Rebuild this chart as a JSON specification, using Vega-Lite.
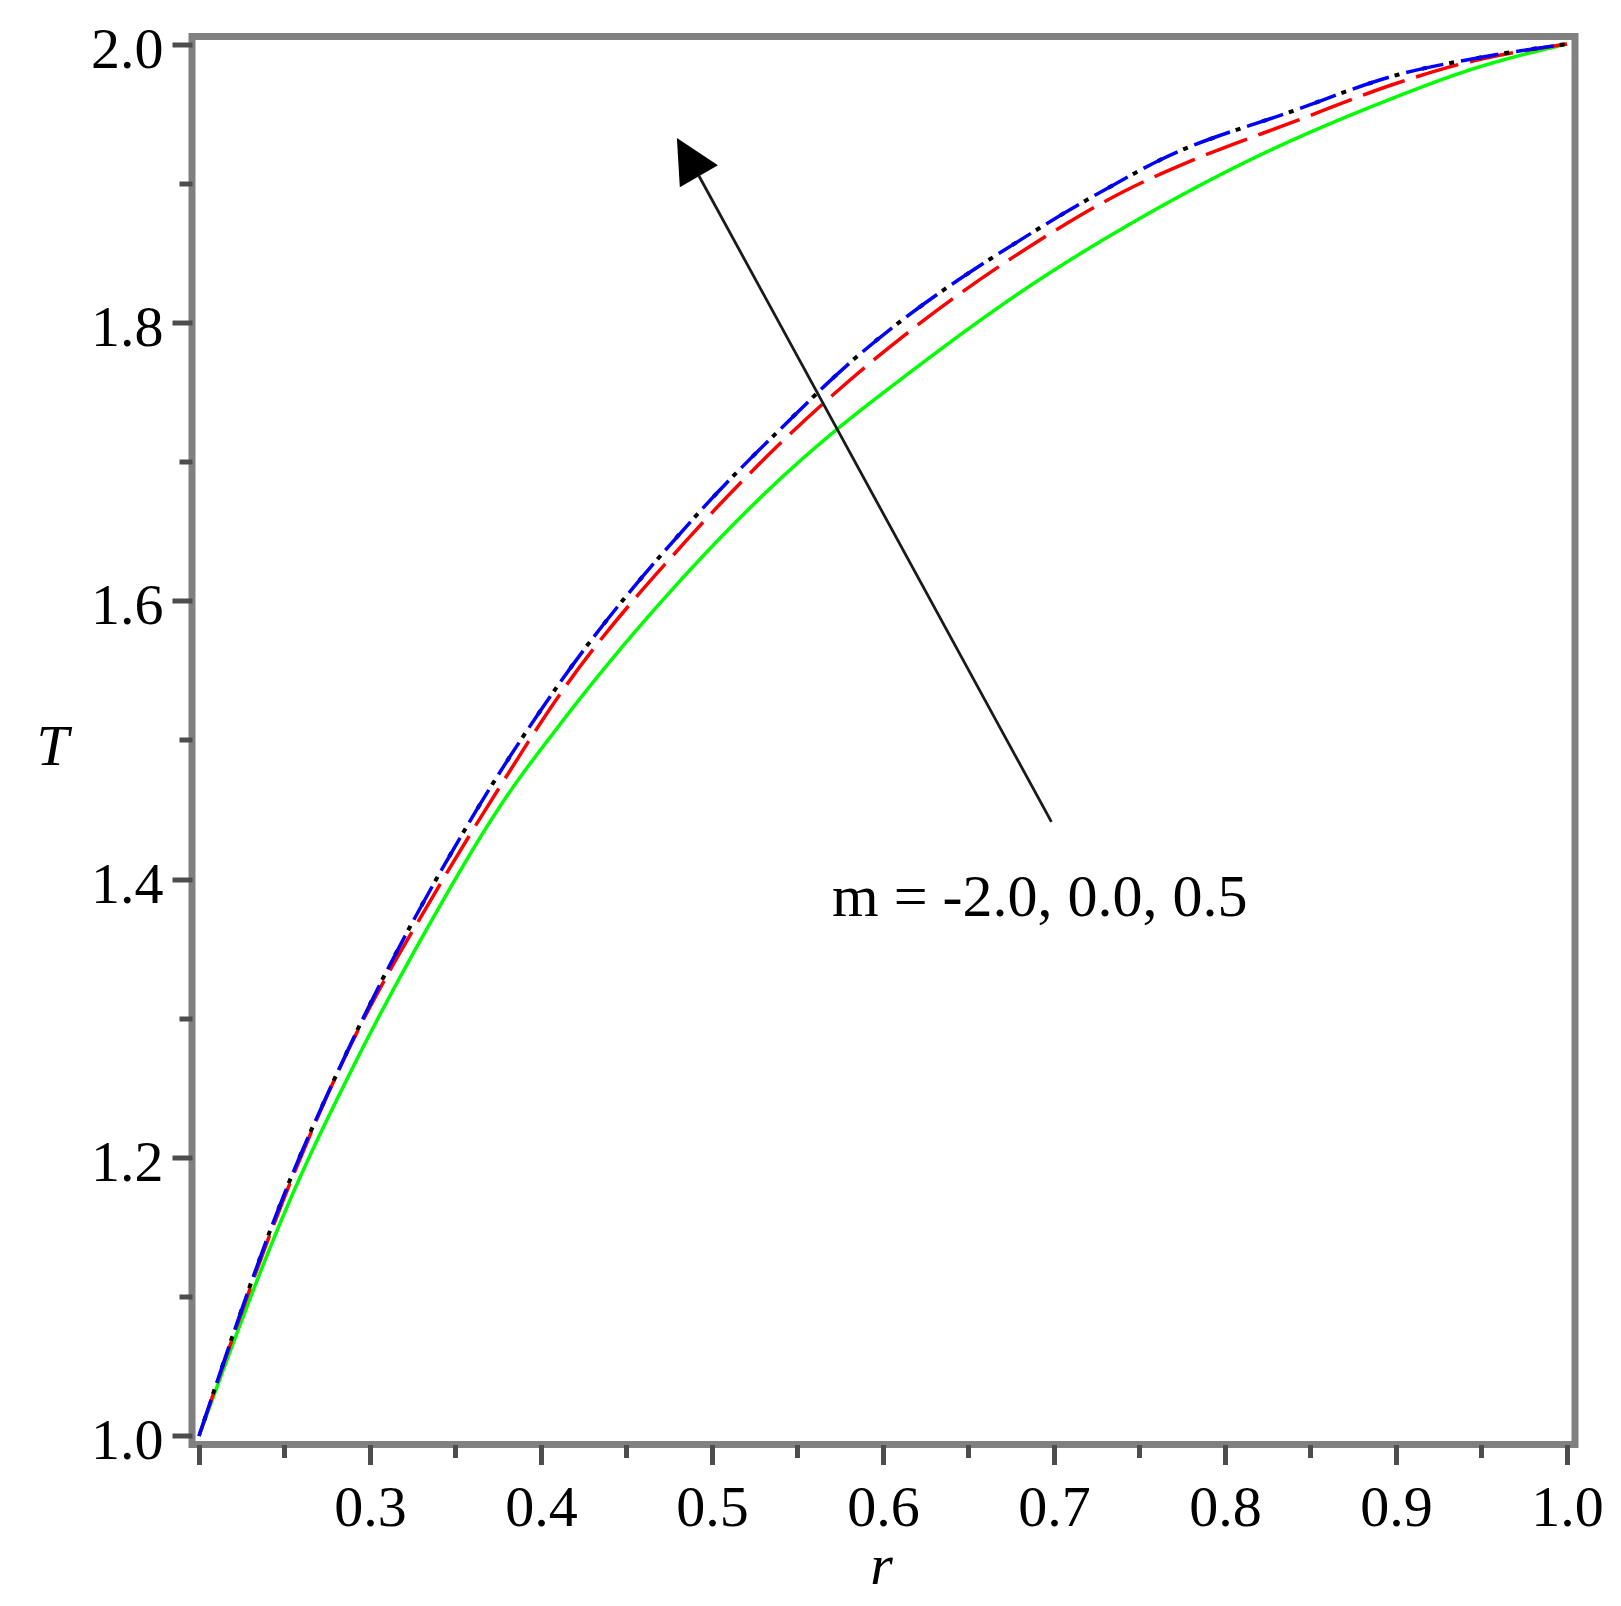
{
  "$schema": "https://vega.github.io/schema/vega-lite/v6.json",
  "autosize": "none",
  "width": 1383,
  "height": 1408,
  "padding": {"left": 192, "top": 36.5, "right": 46, "bottom": 161.5},
  "background": "white",
  "config": {
    "view": {"stroke": "#808080", "strokeWidth": 7},
    "font": "Liberation Serif"
  },
  "datasets": {
    "curves": [
      {"curve": "m = -2.0", "r": 0.2, "T": 1.0},
      {"curve": "m = -2.0", "r": 0.2532, "T": 1.1695},
      {"curve": "m = -2.0", "r": 0.2902, "T": 1.2653},
      {"curve": "m = -2.0", "r": 0.3351, "T": 1.3683},
      {"curve": "m = -2.0", "r": 0.3785, "T": 1.4569},
      {"curve": "m = -2.0", "r": 0.4101, "T": 1.5096},
      {"curve": "m = -2.0", "r": 0.4871, "T": 1.6221},
      {"curve": "m = -2.0", "r": 0.5456, "T": 1.694},
      {"curve": "m = -2.0", "r": 0.5719, "T": 1.722},
      {"curve": "m = -2.0", "r": 0.6099, "T": 1.7586},
      {"curve": "m = -2.0", "r": 0.6918, "T": 1.831},
      {"curve": "m = -2.0", "r": 0.7503, "T": 1.8748},
      {"curve": "m = -2.0", "r": 0.8146, "T": 1.9167},
      {"curve": "m = -2.0", "r": 0.8906, "T": 1.9574},
      {"curve": "m = -2.0", "r": 0.9491, "T": 1.9837},
      {"curve": "m = -2.0", "r": 1.0, "T": 2.0},
      {"curve": "m = 0.0", "r": 0.2, "T": 1.0},
      {"curve": "m = 0.0", "r": 0.2493, "T": 1.1695},
      {"curve": "m = 0.0", "r": 0.2864, "T": 1.2749},
      {"curve": "m = 0.0", "r": 0.339, "T": 1.3922},
      {"curve": "m = 0.0", "r": 0.376, "T": 1.4665},
      {"curve": "m = 0.0", "r": 0.4101, "T": 1.5311},
      {"curve": "m = 0.0", "r": 0.4871, "T": 1.6461},
      {"curve": "m = 0.0", "r": 0.5359, "T": 1.7083},
      {"curve": "m = 0.0", "r": 0.5807, "T": 1.7586},
      {"curve": "m = 0.0", "r": 0.6918, "T": 1.8592},
      {"curve": "m = 0.0", "r": 0.7405, "T": 1.8939},
      {"curve": "m = 0.0", "r": 0.7815, "T": 1.9167},
      {"curve": "m = 0.0", "r": 0.84, "T": 1.944},
      {"curve": "m = 0.0", "r": 0.9004, "T": 1.9718},
      {"curve": "m = 0.0", "r": 0.9394, "T": 1.9861},
      {"curve": "m = 0.0", "r": 1.0, "T": 2.0},
      {"curve": "m = 0.5 dots", "r": 0.2, "T": 1.0},
      {"curve": "m = 0.5 dots", "r": 0.2493, "T": 1.172},
      {"curve": "m = 0.5 dots", "r": 0.2825, "T": 1.2653},
      {"curve": "m = 0.5 dots", "r": 0.3565, "T": 1.4377},
      {"curve": "m = 0.5 dots", "r": 0.4101, "T": 1.5395},
      {"curve": "m = 0.5 dots", "r": 0.491, "T": 1.6616},
      {"curve": "m = 0.5 dots", "r": 0.5544, "T": 1.7407},
      {"curve": "m = 0.5 dots", "r": 0.5651, "T": 1.7535},
      {"curve": "m = 0.5 dots", "r": 0.6918, "T": 1.868},
      {"curve": "m = 0.5 dots", "r": 0.7308, "T": 1.896},
      {"curve": "m = 0.5 dots", "r": 0.762, "T": 1.9167},
      {"curve": "m = 0.5 dots", "r": 0.84, "T": 1.952},
      {"curve": "m = 0.5 dots", "r": 0.9004, "T": 1.9777},
      {"curve": "m = 0.5 dots", "r": 0.95, "T": 1.9905},
      {"curve": "m = 0.5 dots", "r": 1.0, "T": 2.0},
      {"curve": "m = 0.5", "r": 0.2, "T": 1.0},
      {"curve": "m = 0.5", "r": 0.2493, "T": 1.172},
      {"curve": "m = 0.5", "r": 0.2825, "T": 1.2653},
      {"curve": "m = 0.5", "r": 0.3565, "T": 1.4377},
      {"curve": "m = 0.5", "r": 0.4101, "T": 1.5395},
      {"curve": "m = 0.5", "r": 0.491, "T": 1.6616},
      {"curve": "m = 0.5", "r": 0.5544, "T": 1.7407},
      {"curve": "m = 0.5", "r": 0.5651, "T": 1.7535},
      {"curve": "m = 0.5", "r": 0.6918, "T": 1.868},
      {"curve": "m = 0.5", "r": 0.7308, "T": 1.896},
      {"curve": "m = 0.5", "r": 0.762, "T": 1.9167},
      {"curve": "m = 0.5", "r": 0.84, "T": 1.952},
      {"curve": "m = 0.5", "r": 0.9004, "T": 1.9777},
      {"curve": "m = 0.5", "r": 0.95, "T": 1.9905},
      {"curve": "m = 0.5", "r": 1.0, "T": 2.0}
    ],
    "arrow": [
      {"r": 0.6985, "T": 1.4412, "r2": 0.4924, "T2": 1.9052}
    ],
    "head": [
      {"r": 0.4859, "T": 1.9187}
    ],
    "note": [
      {"r": 0.5702, "T": 1.3736, "label": "m = -2.0, 0.0, 0.5"}
    ]
  },
  "layer": [
    {
      "data": {"name": "curves"},
      "transform": [{"filter": "datum.curve == 'm = -2.0' || datum.curve == 'm = 0.0'"}],
      "mark": {"type": "line", "interpolate": "monotone", "strokeWidth": 3.5, "strokeCap": "butt"},
      "encoding": {
        "x": {
          "field": "r", "type": "quantitative",
          "scale": {"domain": [0.19591, 1.00468], "nice": false, "zero": false},
          "axis": {
            "orient": "bottom",
            "values": [0.2, 0.25, 0.3, 0.35, 0.4, 0.45, 0.5, 0.55, 0.6, 0.65, 0.7, 0.75, 0.8, 0.85, 0.9, 0.95, 1.0],
            "labelExpr": "(abs(datum.value*10 - round(datum.value*10)) < 0.001 && datum.value > 0.21) ? format(datum.value, '.1f') : ''",
            "domain": false,
            "grid": false,
            "tickColor": "#4d4d4d",
            "tickWidth": 5,
            "tickSize": {"condition": {"test": "abs(datum.value*10 - round(datum.value*10)) < 0.001", "value": 20}, "value": 13},
            "labelFont": "Liberation Serif",
            "labelFontSize": 58,
            "labelColor": "#000000",
            "labelPadding": 15,
            "labelFlush": false,
            "labelOverlap": false,
            "labelBound": false,
            "title": "r",
            "titleFont": "Liberation Serif",
            "titleFontStyle": "italic",
            "titleFontWeight": "normal",
            "titleFontSize": 58,
            "titleColor": "#000000",
            "titleAnchor": null,
            "titleAlign": "center",
            "titleBaseline": "alphabetic",
            "titleX": 689,
            "titleY": 139
          }
        },
        "y": {
          "field": "T", "type": "quantitative",
          "scale": {"domain": [0.99389, 2.00539], "nice": false, "zero": false},
          "axis": {
            "orient": "left",
            "values": [1.0, 1.1, 1.2, 1.3, 1.4, 1.5, 1.6, 1.7, 1.8, 1.9, 2.0],
            "labelExpr": "(round(datum.value*10) % 2 == 0) ? format(datum.value, '.1f') : ''",
            "domain": false,
            "grid": false,
            "tickColor": "#4d4d4d",
            "tickWidth": 5,
            "tickSize": {"condition": {"test": "round(datum.value*10) % 2 == 0", "value": 20}, "value": 13},
            "labelFont": "Liberation Serif",
            "labelFontSize": 58,
            "labelColor": "#000000",
            "labelPadding": 9,
            "labelOffset": 6,
            "labelFlush": false,
            "labelOverlap": false,
            "labelBound": false,
            "title": "T",
            "titleFont": "Liberation Serif",
            "titleFontStyle": "italic",
            "titleFontWeight": "normal",
            "titleFontSize": 58,
            "titleColor": "#000000",
            "titleAngle": 0,
            "titleAnchor": null,
            "titleAlign": "center",
            "titleBaseline": "alphabetic",
            "titleX": -140,
            "titleY": 728
          }
        },
        "color": {
          "field": "curve", "type": "nominal",
          "scale": {"domain": ["m = -2.0", "m = 0.0"], "range": ["#00ff00", "#ff0000"]},
          "legend": null
        },
        "strokeDash": {
          "field": "curve", "type": "nominal",
          "scale": {"domain": ["m = -2.0", "m = 0.0"], "range": [[1, 0], [44, 12]]},
          "legend": null
        }
      }
    },
    {
      "data": {"name": "curves"},
      "transform": [{"filter": "datum.curve == 'm = 0.5 dots'"}],
      "mark": {"type": "line", "interpolate": "monotone", "strokeWidth": 4, "strokeCap": "butt", "color": "#000000", "strokeDash": [5, 23], "strokeDashOffset": 12},
      "encoding": {
        "x": {"field": "r", "type": "quantitative"},
        "y": {"field": "T", "type": "quantitative"}
      }
    },
    {
      "data": {"name": "curves"},
      "transform": [{"filter": "datum.curve == 'm = 0.5'"}],
      "mark": {"type": "line", "interpolate": "monotone", "strokeWidth": 3.5, "strokeCap": "butt", "color": "#0000ff", "strokeDash": [38, 18]},
      "encoding": {
        "x": {"field": "r", "type": "quantitative"},
        "y": {"field": "T", "type": "quantitative"}
      }
    },
    {
      "data": {"name": "arrow"},
      "mark": {"type": "rule", "color": "#1a1a1a", "strokeWidth": 2.8},
      "encoding": {
        "x": {"field": "r", "type": "quantitative"},
        "y": {"field": "T", "type": "quantitative"},
        "x2": {"field": "r2"},
        "y2": {"field": "T2"}
      }
    },
    {
      "data": {"name": "head"},
      "mark": {"type": "point", "shape": "M0,-1L-1,1L1,1Z", "filled": true, "color": "#000000", "size": 1936, "angle": 330, "opacity": 1, "strokeWidth": 0},
      "encoding": {
        "x": {"field": "r", "type": "quantitative"},
        "y": {"field": "T", "type": "quantitative"}
      }
    },
    {
      "data": {"name": "note"},
      "mark": {"type": "text", "font": "Liberation Serif", "fontSize": 60, "align": "left", "baseline": "alphabetic", "color": "#000000"},
      "encoding": {
        "x": {"field": "r", "type": "quantitative"},
        "y": {"field": "T", "type": "quantitative"},
        "text": {"field": "label"}
      }
    }
  ]
}
